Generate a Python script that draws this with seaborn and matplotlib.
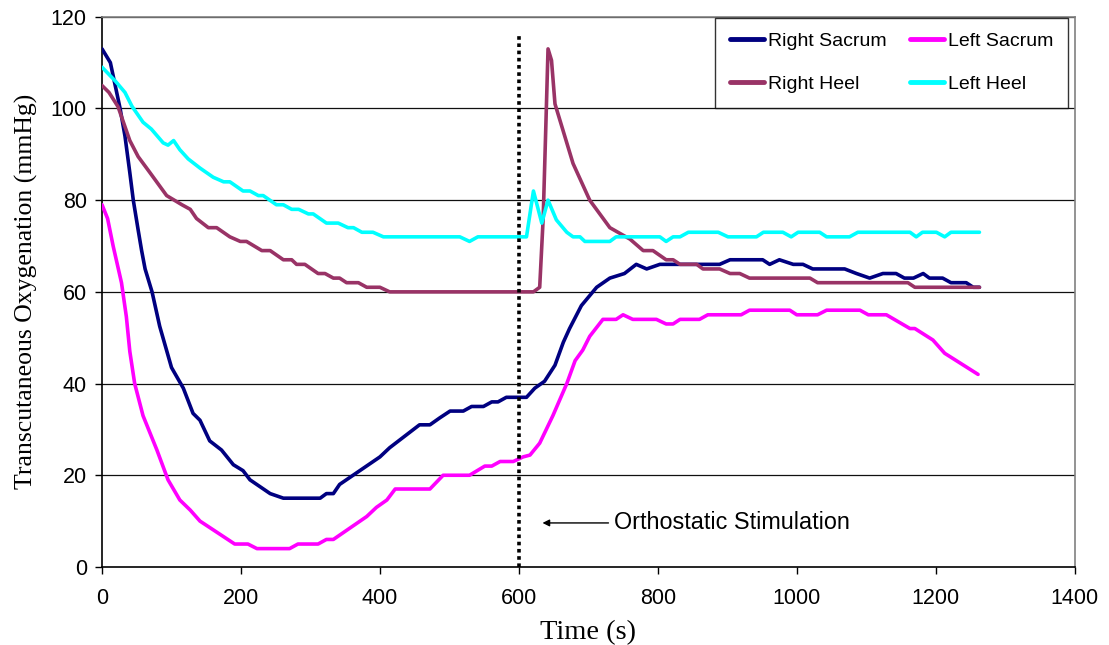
import numpy as np
import pandas as pd
import matplotlib
matplotlib.use("Agg")
import matplotlib.pyplot as plt
import seaborn as sns
from matplotlib.lines import Line2D

# ---------------- data ----------------
rs_t = [0, 6, 12, 19, 26, 33, 40, 45, 52, 57, 62, 72, 83, 100, 117, 131, 141, 155, 172, 189,
        203, 213, 242, 261, 314, 323, 333, 342, 400, 414, 457, 472, 486, 501, 520, 532, 549,
        561, 570, 582, 606, 611, 623, 637, 652, 664, 673, 690, 712, 731, 752, 769, 784, 803,
        889, 904, 951, 961, 975, 995, 1009, 1023, 1069, 1086, 1105, 1124, 1143, 1155, 1168,
        1182, 1191, 1210, 1222, 1244, 1254, 1263]
rs_v = [113, 111.5, 110, 105, 100, 94, 86, 80, 73.5, 69, 65, 60, 52.5, 43.5, 39, 33.5, 32, 27.5,
        25.5, 22.3, 21, 19, 16, 15, 15, 16, 16, 18, 24, 26, 31, 31, 32.5, 34, 34, 35, 35, 36, 36,
        37, 37, 37, 39, 40.5, 44, 49, 52, 57, 61, 63, 64, 66, 65, 66, 66, 67, 67, 66, 67, 66, 66,
        65, 65, 64, 63, 64, 64, 63, 63, 64, 63, 63, 62, 62, 61, 61]

ls_t = [0, 8, 16, 28, 35, 40, 47, 59, 79, 95, 112, 127, 141, 175, 191, 210, 223, 270, 282, 311,
        323, 333, 381, 395, 410, 422, 472, 491, 529, 551, 561, 573, 592, 606, 616, 630, 649, 669,
        681, 692, 702, 721, 740, 750, 764, 798, 812, 822, 832, 860, 872, 920, 932, 990, 1000,
        1030, 1043, 1091, 1103, 1129, 1163, 1170, 1196, 1213, 1261]
ls_v = [79, 76, 70, 62, 54.6, 47, 40, 33, 25.5, 19, 14.6, 12.4, 10, 6.6, 5, 5, 4, 4, 5, 5, 6, 6,
        11, 13, 14.6, 17, 17, 20, 20, 22, 22, 23, 23, 24, 24.4, 27, 33, 40, 45, 47.3, 50.3, 54,
        54, 55, 54, 54, 53, 53, 54, 54, 55, 55, 56, 56, 55, 55, 56, 56, 55, 55, 52, 52, 49.5,
        46.6, 42]

rh_t = [0, 10, 23, 40, 52, 69, 93, 115, 127, 136, 153, 165, 184, 199, 208, 230, 242, 261, 273,
        280, 292, 311, 321, 333, 342, 352, 369, 381, 400, 414, 621, 630, 635, 639, 642, 647, 652,
        663, 678, 702, 731, 760, 779, 793, 812, 822, 832, 856, 865, 889, 904, 918, 932, 1019,
        1030, 1160, 1170, 1263]
rh_v = [105, 103.5, 100.4, 93, 89.5, 86, 81, 79, 78, 76, 74, 74, 72, 71, 71, 69, 69, 67, 67, 66,
        66, 64, 64, 63, 63, 62, 62, 61, 61, 60, 60, 61, 76, 97, 113, 110.5, 101, 95.5, 88, 80,
        74, 71.5, 69, 69, 67, 67, 66, 66, 65, 65, 64, 64, 63, 63, 62, 62, 61, 61]

lh_t = [0, 19, 33, 43, 59, 71, 88, 95, 103, 112, 124, 141, 160, 175, 184, 203, 213, 225, 232, 251,
        261, 273, 283, 297, 304, 323, 340, 354, 362, 374, 390, 405, 515, 529, 541, 611, 621, 633,
        642, 654, 669, 678, 688, 695, 731, 740, 803, 812, 822, 832, 844, 887, 901, 942, 952, 980,
        992, 1002, 1033, 1043, 1076, 1088, 1163, 1172, 1181, 1201, 1213, 1222, 1263]
lh_v = [109, 106, 103.5, 100.5, 97, 95.5, 92.5, 92, 93, 91, 89, 87, 85, 84, 84, 82, 82, 81, 81,
        79, 79, 78, 78, 77, 77, 75, 75, 74, 74, 73, 73, 72, 72, 71, 72, 72, 82, 75, 80, 75.7, 73,
        72, 72, 71, 71, 72, 72, 71, 72, 72, 73, 73, 72, 72, 73, 73, 72, 73, 73, 72, 72, 73, 73,
        72, 73, 73, 72, 73, 73]

series_names = ["Right Sacrum", "Left Sacrum", "Right Heel", "Left Heel"]
series_colors = ["#000080", "#FF00FF", "#993366", "#00FFFF"]
x_ticks = [0, 200, 400, 600, 800, 1000, 1200, 1400]
y_ticks = [0, 20, 40, 60, 80, 100, 120]
stim_time = 600
stim_label = "Orthostatic Stimulation"

# ---------------- plotting ----------------
sns.set_theme(style="white")
plt.rcParams["font.family"] = ["Liberation Sans", "DejaVu Sans"]
plt.rcParams["text.color"] = "black"
plt.rcParams["axes.labelcolor"] = "black"
plt.rcParams["xtick.color"] = "black"
plt.rcParams["ytick.color"] = "black"

fig = plt.figure(figsize=(11.09, 6.45), dpi=100)
ax = fig.add_axes([0.092, 0.121, 0.877, 0.853])

for y in y_ticks[1:]:
    ax.axhline(y, color="#101010", lw=0.9, zorder=1)

data = [(rs_t, rs_v), (ls_t, ls_v), (rh_t, rh_v), (lh_t, lh_v)]
for (t, v), name, col in zip(data, series_names, series_colors):
    df = pd.DataFrame({"t": t, "v": v})
    sns.lineplot(data=df, x="t", y="v", ax=ax, color=col, lw=2.6, estimator=None,
                 sort=False, zorder=3, label=None)

ax.plot([stim_time, stim_time], [0, 116], color="black", lw=2.6,
        linestyle=(0, (1, 1)), zorder=4)
ax.annotate("", xy=(630, 9.6), xytext=(733, 9.6),
            arrowprops=dict(arrowstyle="-|>", color="black", lw=1.0, mutation_scale=10))
ax.text(737, 9.6, stim_label, fontsize=16.8, va="center", ha="left")

ax.set_xlim(0, 1400)
ax.set_ylim(0, 120)
ax.set_xticks(x_ticks)
ax.set_yticks(y_ticks)
ax.tick_params(axis="both", direction="out", length=5, width=1, labelsize=15.5,
               bottom=True, left=True)
ax.tick_params(axis="x", pad=10)
ax.tick_params(axis="y", pad=6)
for s in ["left", "bottom"]:
    ax.spines[s].set_color("black")
    ax.spines[s].set_linewidth(1.2)
for s in ["top", "right"]:
    ax.spines[s].set_color("#808080")
    ax.spines[s].set_linewidth(1.2)

ax.set_xlabel("Time (s)", family="Liberation Serif", fontsize=20.5, labelpad=8)
ax.set_ylabel("Transcutaneous Oxygenation (mmHg)", family="Liberation Serif", fontsize=18.5,
              labelpad=9)

order = [0, 2, 1, 3]
handles = [Line2D([], [], color=series_colors[i], lw=3.5) for i in order]
labels = [series_names[i] for i in order]
leg = ax.legend(handles, labels, ncol=2, loc="upper right", bbox_to_anchor=(0.9928, 0.998),
                borderaxespad=0, fontsize=14, frameon=True, fancybox=False,
                edgecolor="black", handlelength=1.75, handletextpad=0.2, columnspacing=1.2,
                labelspacing=1.3, borderpad=0.75)
leg.get_frame().set_linewidth(1.0)

fig.savefig("out.png", dpi=100)
